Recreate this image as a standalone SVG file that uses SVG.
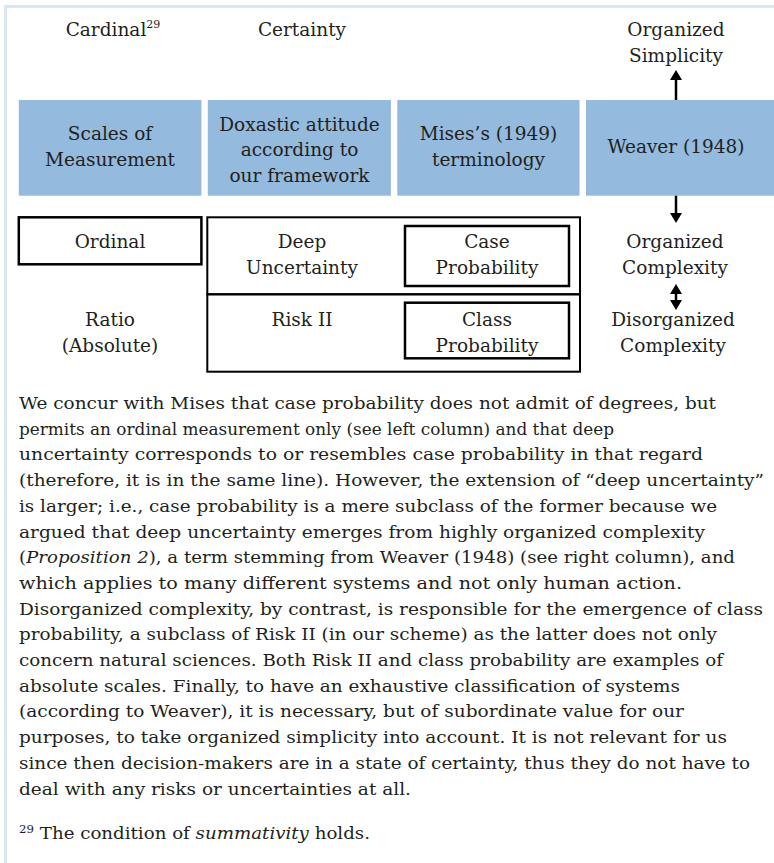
<svg xmlns="http://www.w3.org/2000/svg" width="774" height="863" viewBox="0 0 774 863">
<defs>
<style>
text{font-family:"DejaVu Serif","Liberation Serif",serif;fill:#231f20}
.d{font-size:18.5px;text-anchor:middle}
.b{font-size:17px}
.blue{fill:#94badd;stroke:none}
.box{fill:none;stroke:#000;stroke-width:2.5}
.outer{fill:none;stroke:#000;stroke-width:2}
.arr{stroke:#000;stroke-width:2.5;fill:none;marker-end:url(#ah)}
.frame{fill:none;stroke:#dae6f3;stroke-width:3}
</style>
<marker id="ah" markerUnits="userSpaceOnUse" markerWidth="12" markerHeight="12" viewBox="0 0 10 12" refX="2" refY="6" orient="auto-start-reverse">
<path d="M0,0 L10,6 L0,12 z" fill="#000"/>
</marker>
</defs>
<rect width="774" height="863" fill="#fff"/>
<path class="frame" d="M5.5,863 V6.5 H774"/>

<g id="header-cardinal"><text class="d" x="113" y="36">Cardinal<tspan font-size="11" dy="-8">29</tspan></text></g>
<g id="header-certainty"><text class="d" x="302" y="36">Certainty</text></g>
<g id="organized-simplicity"><text class="d" x="676" y="36">Organized</text><text class="d" x="676" y="61.7">Simplicity</text></g>

<g id="scales"><rect class="blue" x="18.8" y="100" width="182.6" height="95.7"/><text class="d" x="110" y="140">Scales of</text><text class="d" x="110" y="165.7">Measurement</text></g>
<g id="doxastic"><rect class="blue" x="207.8" y="100" width="183.1" height="95.7"/><text class="d" x="299.5" y="130.7">Doxastic attitude</text><text class="d" x="299.5" y="156">according to</text><text class="d" x="299.5" y="181.7">our framework</text></g>
<g id="mises"><rect class="blue" x="397.3" y="100" width="182.2" height="95.7"/><text class="d" x="488.5" y="140">Mises’s (1949)</text><text class="d" x="488.5" y="165.7">terminology</text></g>
<g id="weaver"><rect class="blue" x="586" y="100" width="188" height="95.7"/><text class="d" x="676" y="153">Weaver (1948)</text></g>

<g id="ordinal"><rect class="box" x="18.8" y="217.3" width="182.6" height="47"/><text class="d" x="110" y="248.3">Ordinal</text></g>
<g id="deep-uncertainty"><rect class="outer" x="207.3" y="217.3" width="372.7" height="77"/><text class="d" x="302" y="248.3">Deep</text><text class="d" x="302" y="274">Uncertainty</text></g>
<g id="case-probability"><rect class="box" x="405" y="226" width="164" height="60"/><text class="d" x="487" y="248.3">Case</text><text class="d" x="487" y="274">Probability</text></g>
<g id="organized-complexity"><text class="d" x="675" y="248.3">Organized</text><text class="d" x="675" y="274">Complexity</text></g>
<g id="ratio"><text class="d" x="110" y="326">Ratio</text><text class="d" x="110" y="351.7">(Absolute)</text></g>
<g id="risk-ii"><rect class="outer" x="207.3" y="294.3" width="372.7" height="77.4"/><text class="d" x="302" y="326">Risk II</text></g>
<g id="class-probability"><rect class="box" x="405" y="302.7" width="164" height="55.6"/><text class="d" x="487" y="326">Class</text><text class="d" x="487" y="351.7">Probability</text></g>
<g id="disorganized-complexity"><text class="d" x="673" y="326">Disorganized</text><text class="d" x="673" y="351.7">Complexity</text></g>

<g id="connectors">
<line class="arr" x1="676" y1="100" x2="676" y2="78"/>
<line class="arr" x1="676" y1="195.7" x2="676" y2="215"/>
<line class="arr" x1="676" y1="292" x2="676" y2="302" style="marker-start:url(#ah)"/>
</g>

<g id="caption">
<text class="b" x="19" y="409" textLength="697" lengthAdjust="spacingAndGlyphs">We concur with Mises that case probability does not admit of degrees, but</text>
<text class="b" x="19" y="434.7" textLength="595" lengthAdjust="spacingAndGlyphs">permits an ordinal measurement only (see left column) and that deep</text>
<text class="b" x="19" y="460.4" textLength="684" lengthAdjust="spacingAndGlyphs">uncertainty corresponds to or resembles case probability in that regard</text>
<text class="b" x="19" y="486.1" textLength="745" lengthAdjust="spacingAndGlyphs">(therefore, it is in the same line). However, the extension of “deep uncertainty”</text>
<text class="b" x="19" y="511.8" textLength="698" lengthAdjust="spacingAndGlyphs">is larger; i.e., case probability is a mere subclass of the former because we</text>
<text class="b" x="19" y="537.5" textLength="686" lengthAdjust="spacingAndGlyphs">argued that deep uncertainty emerges from highly organized complexity</text>
<text class="b" x="19" y="563.2" textLength="716" lengthAdjust="spacingAndGlyphs">(<tspan font-style="italic">Proposition 2</tspan>), a term stemming from Weaver (1948) (see right column), and</text>
<text class="b" x="19" y="588.9" textLength="663" lengthAdjust="spacingAndGlyphs">which applies to many different systems and not only human action.</text>
<text class="b" x="19" y="614.6" textLength="744" lengthAdjust="spacingAndGlyphs">Disorganized complexity, by contrast, is responsible for the emergence of class</text>
<text class="b" x="19" y="640.3" textLength="698" lengthAdjust="spacingAndGlyphs">probability, a subclass of Risk II (in our scheme) as the latter does not only</text>
<text class="b" x="19" y="666" textLength="704" lengthAdjust="spacingAndGlyphs">concern natural sciences. Both Risk II and class probability are examples of</text>
<text class="b" x="19" y="691.7" textLength="661" lengthAdjust="spacingAndGlyphs">absolute scales. Finally, to have an exhaustive classification of systems</text>
<text class="b" x="19" y="717.4" textLength="665" lengthAdjust="spacingAndGlyphs">(according to Weaver), it is necessary, but of subordinate value for our</text>
<text class="b" x="19" y="743.1" textLength="708" lengthAdjust="spacingAndGlyphs">purposes, to take organized simplicity into account. It is not relevant for us</text>
<text class="b" x="19" y="768.8" textLength="731" lengthAdjust="spacingAndGlyphs">since then decision-makers are in a state of certainty, thus they do not have to</text>
<text class="b" x="19" y="794.5" textLength="392" lengthAdjust="spacingAndGlyphs">deal with any risks or uncertainties at all.</text>
</g>
<g id="footnote">
<text class="b" x="19" y="839" textLength="351" lengthAdjust="spacingAndGlyphs"><tspan font-size="11" dy="-6">29</tspan><tspan dy="6"> The condition of </tspan><tspan font-style="italic">summativity</tspan> holds.</text>
</g>
</svg>
